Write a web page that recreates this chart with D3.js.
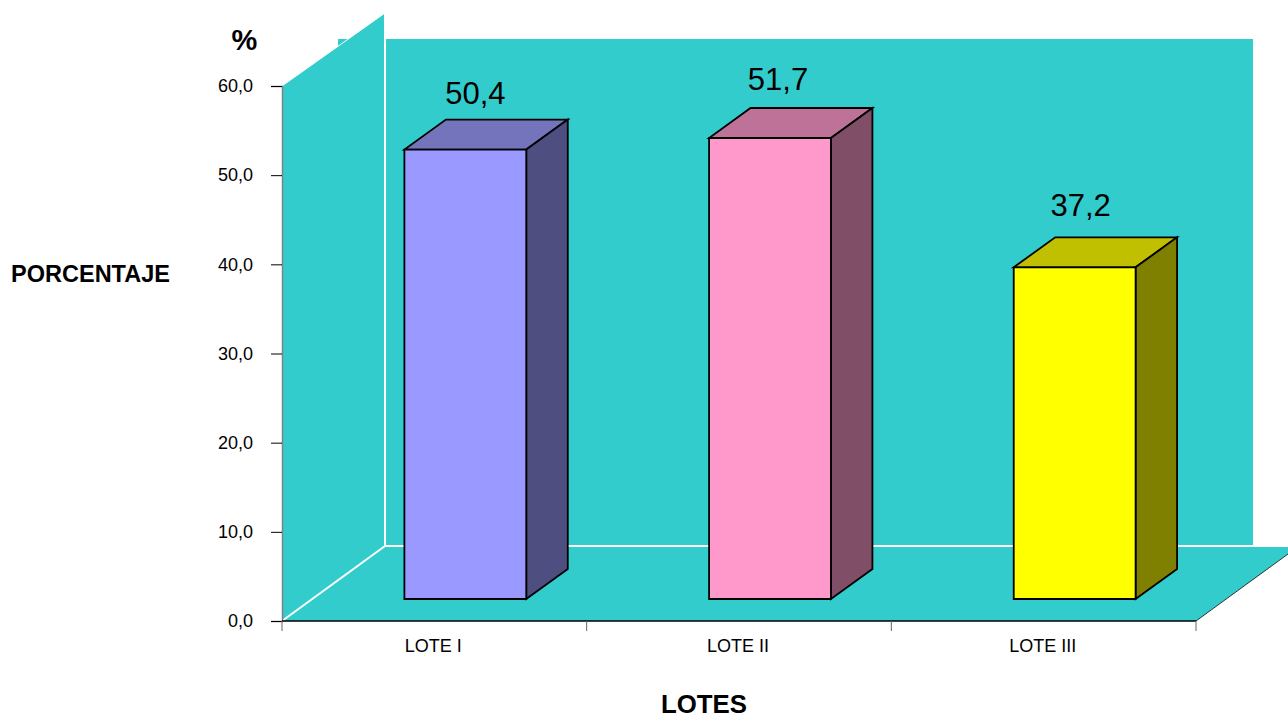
<!DOCTYPE html>
<html>
<head>
<meta charset="utf-8">
<script src="https://cdnjs.cloudflare.com/ajax/libs/d3/7.8.5/d3.min.js"></script>
<style>
html,body{margin:0;padding:0;background:#fff;overflow:hidden}
svg{display:block}
text{font-family:"Liberation Sans",Arial,sans-serif;fill:#000}
</style>
</head>
<body>
<svg id="chart" width="1288" height="716"></svg>
<script>
const categories = ["LOTE I", "LOTE II", "LOTE III"];
const values = [50.4, 51.7, 37.2];
const valueLabels = ["50,4", "51,7", "37,2"];
const yTicks = [0, 10, 20, 30, 40, 50, 60];
const frontColors = ["#9999ff", "#ff99cc", "#ffff00"];
const topColors = ["#7474bd", "#bf7298", "#c0c000"];
const sideColors = ["#4e4e80", "#804e66", "#808000"];

const wallColor = "#33cccc";
const svg = d3.select("#chart");

const axisLeft = 282, axisRight = 1196, axisBottom = 621, axisTop = 86;
const depthX = 103, depthY = 75;          // full floor depth
const barShiftX = 31, barShiftY = 22;     // bars stand slightly in from the front edge
const barDepthX = 41.5, barDepthY = 30;
const labelNudgeX = [10, 8, 6], labelNudgeY = [46, 48, 51];

const y = d3.scaleLinear().domain([0, 60]).range([axisBottom, axisTop]);
const x = d3.scaleBand().domain(categories).range([axisLeft, axisRight]).paddingInner(0.6).paddingOuter(0.3);
const xCat = d3.scaleBand().domain(categories).range([axisLeft, axisRight]);

const poly = (pts, fill, extra = {}) => {
  const p = svg.append("polygon").attr("points", pts.map(d => d.join(",")).join(" ")).attr("fill", fill);
  Object.entries(extra).forEach(([k, v]) => p.attr(k, v));
  return p;
};

// Back wall
const wallTop = 39, wallRight = 1253, wallLeft = 338;
svg.append("rect").attr("x", wallLeft).attr("y", wallTop)
  .attr("width", wallRight - wallLeft).attr("height", y(0) - depthY - wallTop).attr("fill", wallColor);

// Side wall
const sideTopY = y(60) - depthY + 2;
poly([[axisLeft, y(60)], [axisLeft + depthX, sideTopY], [axisLeft + depthX, y(0) - depthY], [axisLeft, y(0)]], wallColor);

// Floor
poly([[axisLeft, y(0)], [axisRight, y(0)], [axisRight + depthX, y(0) - depthY], [axisLeft + depthX, y(0) - depthY]], wallColor);

// White edges where the wall, side and floor meet
const edge = (x1, y1, x2, y2, width = 2) => svg.append("line")
  .attr("x1", x1).attr("y1", y1).attr("x2", x2).attr("y2", y2)
  .attr("stroke", "#fff").attr("stroke-width", width);
edge(axisLeft + depthX, sideTopY, axisLeft + depthX, y(0) - depthY);
edge(axisLeft + depthX, y(0) - depthY, axisRight + depthX, y(0) - depthY);
edge(axisLeft, y(0), axisLeft + depthX, y(0) - depthY);
edge(axisLeft, y(60), axisLeft + depthX, sideTopY, 1);

// Right floor edge
svg.append("line").attr("x1", axisRight).attr("y1", y(0))
  .attr("x2", axisRight + depthX).attr("y2", y(0) - depthY)
  .attr("stroke", "#333").attr("stroke-width", 1);

// Axes
const yAxis = d3.axisLeft(y).tickValues(yTicks).tickSize(11).tickPadding(18)
  .tickFormat(d => d3.format(".1f")(d).replace(".", ","));
const yG = svg.append("g").attr("transform", `translate(${axisLeft},0)`).call(yAxis);
yG.select(".domain").attr("stroke", "#808080").attr("stroke-width", 1.5);
yG.selectAll("text").attr("font-size", 18)
  .style("font-family", '"Liberation Sans",Arial,sans-serif');

const xAxisLine = svg.append("g").attr("class", "x-axis");
xAxisLine.append("line").attr("x1", axisLeft).attr("x2", axisRight)
  .attr("y1", y(0)).attr("y2", y(0)).attr("stroke", "#000").attr("stroke-width", 1.5);
const xEdges = [...categories.map(c => xCat(c)), axisRight];
xAxisLine.selectAll("line.t").data(xEdges).join("line").attr("class", "t")
  .attr("x1", d => d).attr("x2", d => d)
  .attr("y1", y(0)).attr("y2", y(0) + 10).attr("stroke", "#666").attr("stroke-width", 1);
xAxisLine.selectAll("text").data(categories).join("text")
  .attr("x", d => xCat(d) + xCat.bandwidth() / 2 - 1).attr("y", 652)
  .attr("text-anchor", "middle").attr("font-size", 18).text(d => d);

// Bars
categories.forEach((c, i) => {
  const left = x(c) + barShiftX, w = x.bandwidth();
  const base = y(0) - barShiftY, top = base - (y(0) - y(values[i]));
  const stroke = { stroke: "#000", "stroke-width": 1.8, "stroke-linejoin": "miter" };
  poly([[left, top], [left + w, top], [left + w + barDepthX, top - barDepthY], [left + barDepthX, top - barDepthY]], topColors[i], stroke);
  poly([[left + w, top], [left + w + barDepthX, top - barDepthY], [left + w + barDepthX, base - barDepthY], [left + w, base]], sideColors[i], stroke);
  poly([[left, top], [left + w, top], [left + w, base], [left, base]], frontColors[i], stroke);
  svg.append("text").attr("x", left + w / 2 + labelNudgeX[i]).attr("y", top - labelNudgeY[i])
    .attr("text-anchor", "middle").attr("font-size", 31).text(valueLabels[i]);
});

// Titles
svg.append("text").attr("x", 244.5).attr("y", 50).attr("text-anchor", "middle")
  .attr("font-size", 29).attr("font-weight", "bold").text("%");
svg.append("text").attr("x", 90.5).attr("y", 282).attr("text-anchor", "middle")
  .attr("font-size", 23.5).attr("font-weight", "bold").text("PORCENTAJE");
svg.append("text").attr("x", 704).attr("y", 713).attr("text-anchor", "middle")
  .attr("font-size", 25.8).attr("font-weight", "bold").text("LOTES");
</script>
</body>
</html>
